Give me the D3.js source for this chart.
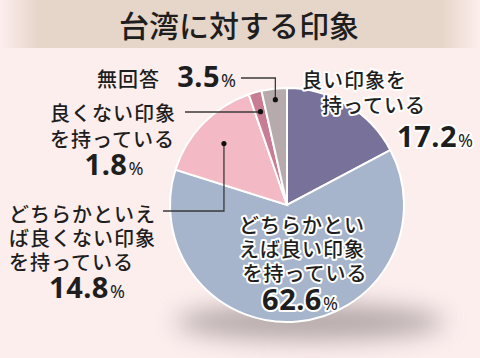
<!DOCTYPE html>
<html lang="ja">
<head>
<meta charset="UTF-8">
<title>台湾に対する印象</title>
<script src="https://cdn.jsdelivr.net/npm/d3@7/dist/d3.min.js"></script>
<style>
  html, body { margin: 0; padding: 0; background: #fdeeee; }
  svg { display: block; }
  text { font-family: "Noto Sans CJK JP", "Noto Sans", sans-serif; fill: #1e1e1e; }
</style>
</head>
<body>
<div id="chart"></div>
<script>
// data
var title = "台湾に対する印象";
var categories = ["良い印象を持っている", "どちらかといえば良い印象を持っている",
                  "どちらかといえば良くない印象を持っている", "良くない印象を持っている", "無回答"];
var values = [17.2, 62.6, 14.8, 1.8, 3.5];
var colors = ["#78729a", "#a6b5cc", "#f3b9c4", "#c97d94", "#b7aaad"];
var labelLines = [
    ["良い印象を", "持っている"],
    ["どちらかとい", "えば良い印象", "を持っている"],
    ["どちらかといえ", "ば良くない印象", "を持っている"],
    ["良くない印象", "を持っている"],
    ["無回答"]
];

var W = 480, H = 358;
var cx = 287, cy = 205, R = 117;

var svg = d3.select("#chart").append("svg")
    .attr("width", W).attr("height", H);

var defs = svg.append("defs");
var grad = defs.append("linearGradient").attr("id", "band");
grad.append("stop").attr("offset", "0%").attr("stop-color", "#e6d5c9").attr("stop-opacity", 0);
grad.append("stop").attr("offset", "8%").attr("stop-color", "#e6d5c9").attr("stop-opacity", 1);
grad.append("stop").attr("offset", "92%").attr("stop-color", "#e6d5c9").attr("stop-opacity", 1);
grad.append("stop").attr("offset", "100%").attr("stop-color", "#e6d5c9").attr("stop-opacity", 0);
defs.append("filter").attr("id", "blur")
    .attr("x", "-40%").attr("y", "-150%").attr("width", "180%").attr("height", "400%")
    .append("feGaussianBlur").attr("stdDeviation", 12);

// title band
svg.append("rect").attr("x", 0).attr("y", 0).attr("width", W).attr("height", 48)
    .attr("fill", "url(#band)");
svg.append("text").attr("x", 239).attr("y", 37)
    .attr("text-anchor", "middle")
    .style("font-size", "30px").style("font-weight", 500)
    .text(title);

// shadow under the pie
svg.append("ellipse").attr("cx", 310).attr("cy", 322).attr("rx", 135).attr("ry", 18)
    .attr("fill", "#857a7c").attr("opacity", 0.6).attr("filter", "url(#blur)");

var pie = d3.pie().sort(null).value(function(d){ return d; });
var arcs = pie(values);
var arc = d3.arc().innerRadius(0).outerRadius(R);

var g = svg.append("g").attr("transform", "translate(" + cx + "," + cy + ")");
g.selectAll("path")
    .data(arcs)
    .enter()
    .append("path")
    .attr("d", arc)
    .attr("fill", function(d, i){ return colors[i]; })
    .attr("stroke", "#ffffff")
    .attr("stroke-width", 2);

// leader lines: dot on the slice, elbow, end at label
var leaders = [
    null, null,
    { r: 88, elbowY: 211, endX: 163 },
    { r: 97, elbowY: 112, endX: 185 },
    { r: 106, elbowY: 78, endX: 241 }
];
arcs.forEach(function(a, i){
    var L = leaders[i];
    if (!L) return;
    var c = d3.arc().innerRadius(L.r).outerRadius(L.r).centroid(a);
    var px = cx + c[0], py = cy + c[1];
    var pts = [[px, py], [px, L.elbowY], [L.endX, L.elbowY]];
    svg.append("path")
        .attr("d", d3.line()(pts))
        .attr("fill", "none")
        .attr("stroke", "#3a3a3a")
        .attr("stroke-width", 1.3);
    svg.append("circle").attr("cx", px).attr("cy", py).attr("r", 2.6).attr("fill", "#111");
});

// label layout
var labels = [
    { lines: [{ x: 302, y: 88, anchor: "start" }, { x: 322, y: 113, anchor: "start" }],
      value: { x: 473, y: 147, anchor: "end" }, halo: true },
    { lines: [{ x: 302, y: 233, anchor: "middle" }, { x: 302, y: 257, anchor: "middle" }, { x: 305, y: 281, anchor: "middle" }],
      value: { x: 300, y: 310, anchor: "middle" }, halo: true },
    { lines: [{ x: 9, y: 222, anchor: "start" }, { x: 9, y: 246, anchor: "start" }, { x: 9, y: 270, anchor: "start" }],
      value: { x: 87, y: 298, anchor: "middle" }, halo: false },
    { lines: [{ x: 50, y: 121, anchor: "start" }, { x: 50, y: 147, anchor: "start" }],
      value: { x: 114, y: 175, anchor: "middle" }, halo: false },
    { lines: [{ x: 97, y: 87, anchor: "start" }],
      value: { x: 236, y: 87, anchor: "end" }, halo: false }
];

function halo(sel, on){
    if (on) sel.attr("stroke", "#ffffff").attr("stroke-width", 4)
        .attr("stroke-linejoin", "round").style("paint-order", "stroke");
}

labels.forEach(function(lab, i){
    labelLines[i].forEach(function(s, j){
        var p = lab.lines[j];
        svg.append("text")
            .attr("x", p.x).attr("y", p.y)
            .attr("text-anchor", p.anchor)
            .style("font-size", "20px")
            .style("font-weight", 500)
            .style("letter-spacing", "1px")
            .text(s)
            .call(halo, lab.halo);
    });
    var v = svg.append("text")
        .attr("x", lab.value.x).attr("y", lab.value.y)
        .attr("text-anchor", lab.value.anchor)
        .style("font-family", "'Noto Sans', 'Open Sans', sans-serif")
        .call(halo, lab.halo);
    v.append("tspan").style("font-size", "29px").style("font-weight", "bold")
        .style("letter-spacing", "0.5px")
        .text(values[i].toFixed(1));
    v.append("tspan").style("font-size", "18px").attr("dx", 1).text("%");
});
</script>
</body>
</html>
